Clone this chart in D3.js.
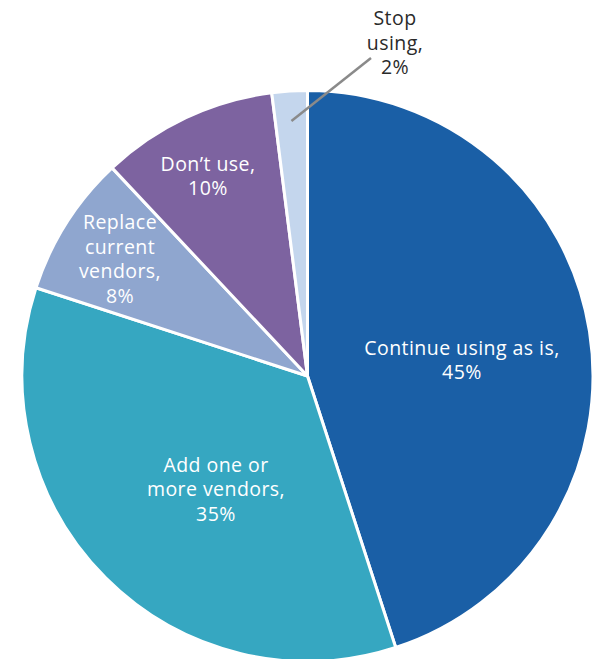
<!DOCTYPE html>
<html>
<head>
<meta charset="utf-8">
<script src="https://cdn.jsdelivr.net/npm/d3@7/dist/d3.min.js"></script>
<style>
  html, body { margin: 0; padding: 0; background: #ffffff; }
  svg { display: block; }
  text { font-family: "Open Sans", Lato, sans-serif; }
</style>
</head>
<body>
<svg id="chart" width="599" height="659"></svg>
<script>
// Survey answers, clockwise from 12 o'clock
const categories = ["Continue using as is", "Add one or more vendors", "Replace current vendors", "Don\u2019t use", "Stop using"];
const values = [45, 35, 8, 10, 2];
const labelLines = [
  ["Continue using as is,", "45%"],
  ["Add one or", "more vendors,", "35%"],
  ["Replace", "current", "vendors,", "8%"],
  ["Don\u2019t use,", "10%"],
  ["Stop", "using,", "2%"]
];
const colors = ["#1a5fa6", "#36a7c1", "#8fa6cf", "#7d63a0", "#c4d6ed"];

// Layout
const width = 599, height = 659;
const cx = 307.5, cy = 376, radius = 285.5;
// label centres relative to the pie centre
const labelOffsets = [[154.5, -16], [-91.5, 113.5], [-187.5, -117], [-99.5, -200], [87.5, -333]];
const labelInside = [true, true, true, true, false];
const lineHeight = 24.5;
// leader line end for the outside label, relative to the pie centre
const leaderEnd = [63.5, -318];

const svg = d3.select("#chart");
const g = svg.append("g").attr("transform", `translate(${cx},${cy})`);

const pie = d3.pie().sort(null).value(d => d.value);
const arcs = pie(categories.map((c, i) => ({ name: c, value: values[i], i })));
const arc = d3.arc().innerRadius(0).outerRadius(radius);

g.selectAll("path.slice")
  .data(arcs)
  .join("path")
  .attr("class", "slice")
  .attr("d", arc)
  .attr("fill", d => colors[d.data.i])
  .attr("stroke", "#ffffff")
  .attr("stroke-width", 3)
  .attr("stroke-linejoin", "round");

// Leader line for the small outside slice
const small = arcs[4];
const pIn = d3.arc().innerRadius(radius * 0.895).outerRadius(radius * 0.895).centroid(small);
g.append("line")
  .attr("x1", pIn[0]).attr("y1", pIn[1])
  .attr("x2", leaderEnd[0]).attr("y2", leaderEnd[1])
  .attr("stroke", "#8a8a8a")
  .attr("stroke-width", 2.5);

// Labels
const labels = g.selectAll("text.label")
  .data(arcs)
  .join("text")
  .attr("class", "label")
  .attr("text-anchor", "middle")
  .attr("font-size", 19.5)
  .attr("letter-spacing", 0.45)
  .attr("fill", d => labelInside[d.data.i] ? "#ffffff" : "#2a2a2a")
  .attr("transform", d => `translate(${labelOffsets[d.data.i][0]},${labelOffsets[d.data.i][1]})`);

labels.each(function(d) {
  const lines = labelLines[d.data.i];
  const n = lines.length;
  d3.select(this).selectAll("tspan")
    .data(lines)
    .join("tspan")
    .attr("x", 0)
    .attr("y", (l, j) => (j - (n - 1) / 2) * lineHeight)
    .attr("dy", "0.35em")
    .text(l => l);
});
</script>
</body>
</html>
